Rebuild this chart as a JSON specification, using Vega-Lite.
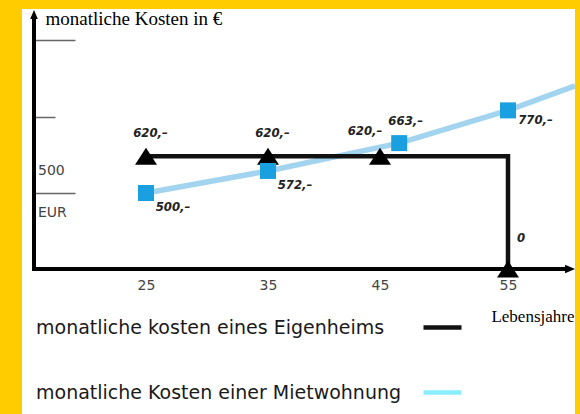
{
  "$schema": "https://vega.github.io/schema/vega-lite/v6.json",
  "width": 553,
  "height": 405,
  "autosize": {"type": "none"},
  "padding": {"left": 22, "top": 9, "right": 5, "bottom": 0},
  "background": "#FFCC00",
  "config": {"view": {"fill": "white", "stroke": null}},
  "datasets": {
    "eigen": [
      {"age": 25, "cost": 620, "i": 1, "marker": true, "label": "620,–"},
      {"age": 35, "cost": 620, "i": 2, "marker": true, "label": "620,–"},
      {"age": 45, "cost": 620, "i": 3, "marker": true, "label": "620,–"},
      {"age": 55, "cost": 620, "i": 4, "marker": false, "label": ""},
      {"age": 55, "cost": 0, "i": 5, "marker": true, "label": "0"}
    ],
    "miete": [
      {"age": 25, "cost": 500, "marker": true, "label": "500,–"},
      {"age": 35, "cost": 572, "marker": true, "label": "572,–"},
      {"age": 46.5, "cost": 663, "marker": true, "label": "663,–"},
      {"age": 55, "cost": 770, "marker": true, "label": "770,–"},
      {"age": 60, "cost": 850, "marker": false, "label": ""}
    ],
    "axes": [
      {"age": 15, "age2": 59.5, "cost": 0, "cost2": 1075, "arrowAge": 59.63, "arrowCost": 1083, "unit": "EUR", "tick": 500, "tickLabel": "500"}
    ]
  },
  "layer": [
    {
      "data": {"name": "miete"},
      "mark": {"type": "line", "color": "#a3d4ef", "strokeWidth": 5.5},
      "encoding": {
        "x": {
          "field": "age", "type": "quantitative",
          "scale": {"domain": [15, 25, 35, 45, 55, 60], "range": [12, 124, 246, 358, 486, 553], "zero": false, "nice": false},
          "axis": {
            "orient": "bottom", "offset": -145, "domain": false, "ticks": false, "grid": false,
            "values": [25, 35, 45, 55], "labelFont": "DejaVu Sans", "labelFontSize": 14, "labelColor": "#444", "labelPadding": 9,
            "title": "Lebensjahre", "titleFont": "Liberation Serif", "titleFontSize": 17, "titleFontWeight": "normal",
            "titleColor": "#000", "titleX": 552, "titleY": 47, "titleAlign": "right", "titleBaseline": "middle"
          }
        },
        "y": {
          "field": "cost", "type": "quantitative",
          "scale": {"domain": [0, 500, 1000], "range": [260, 184, 31], "zero": false, "nice": false},
          "axis": {
            "orient": "left", "offset": -12, "domain": false, "grid": false, "labels": false,
            "values": [500, 750, 1000],
            "tickSize": {"condition": {"test": "datum.value === 750", "value": -21}, "value": -41},
            "tickColor": "#666", "tickWidth": 1.5,
            "title": "monatliche Kosten in €", "titleFont": "Liberation Serif", "titleFontSize": 19, "titleFontWeight": "normal",
            "titleColor": "#000", "titleAngle": 0, "titleAlign": "left", "titleBaseline": "middle", "titleX": 11, "titleY": 9
          }
        }
      }
    },
    {
      "data": {"name": "eigen"},
      "mark": {"type": "line", "strokeWidth": 4.5, "strokeJoin": "miter", "strokeCap": "butt"},
      "encoding": {
        "x": {"field": "age", "type": "quantitative"},
        "y": {"field": "cost", "type": "quantitative"},
        "order": {"field": "i", "type": "quantitative"},
        "color": {
          "datum": "monatliche kosten eines Eigenheims", "type": "nominal",
          "scale": {"domain": ["monatliche kosten eines Eigenheims", "monatliche Kosten einer Mietwohnung"], "range": ["#111111", "#8aeeff"]},
          "legend": {
            "title": null, "orient": "none", "legendX": 399, "legendY": 297, "padding": 0,
            "symbolType": "stroke", "symbolSize": 1444, "symbolStrokeWidth": 4.5,
            "labelFont": "DejaVu Sans", "labelFontSize": 19, "labelColor": "#1a1a1a",
            "labelAlign": "left", "labelOffset": -428, "labelLimit": 600, "rowPadding": 33
          }
        }
      }
    },
    {
      "data": {"name": "axes"},
      "mark": {"type": "rule", "color": "#000", "strokeWidth": 4, "strokeCap": "square"},
      "encoding": {"x": {"field": "age", "type": "quantitative"}, "y": {"field": "cost", "type": "quantitative"}, "y2": {"field": "cost2"}}
    },
    {
      "data": {"name": "axes"},
      "mark": {"type": "rule", "color": "#000", "strokeWidth": 4, "strokeCap": "square"},
      "encoding": {"x": {"field": "age", "type": "quantitative"}, "x2": {"field": "age2"}, "y": {"field": "cost", "type": "quantitative"}}
    },
    {
      "data": {"name": "axes"},
      "mark": {"type": "point", "shape": "M0,-1L0.85,1L-0.85,1Z", "size": 81, "filled": true, "color": "#000", "opacity": 1},
      "encoding": {"x": {"field": "age", "type": "quantitative"}, "y": {"field": "arrowCost", "type": "quantitative"}}
    },
    {
      "data": {"name": "axes"},
      "mark": {"type": "point", "shape": "M1,0L-1,-0.85L-1,0.85Z", "size": 100, "filled": true, "color": "#000", "opacity": 1},
      "encoding": {"x": {"field": "arrowAge", "type": "quantitative"}, "y": {"field": "cost", "type": "quantitative"}}
    },
    {
      "data": {"name": "eigen"},
      "transform": [{"filter": "datum.marker"}],
      "mark": {"type": "point", "shape": "M0,-0.77L1,0.77L-1,0.77Z", "size": 484, "filled": true, "color": "#000", "opacity": 1},
      "encoding": {"x": {"field": "age", "type": "quantitative"}, "y": {"field": "cost", "type": "quantitative"}}
    },
    {
      "data": {"name": "miete"},
      "transform": [{"filter": "datum.marker"}],
      "mark": {"type": "point", "shape": "square", "size": 256, "filled": true, "color": "#1a9fe0", "opacity": 1},
      "encoding": {"x": {"field": "age", "type": "quantitative"}, "y": {"field": "cost", "type": "quantitative"}}
    },
    {
      "data": {"name": "eigen"},
      "transform": [{"filter": "datum.marker && datum.age < 45"}],
      "mark": {"type": "text", "dx": 4.5, "dy": -23, "font": "DejaVu Sans Condensed", "fontSize": 13, "fontWeight": "bold", "fontStyle": "italic", "color": "#222", "baseline": "middle"},
      "encoding": {"x": {"field": "age", "type": "quantitative"}, "y": {"field": "cost", "type": "quantitative"}, "text": {"field": "label"}}
    },
    {
      "data": {"name": "eigen"},
      "transform": [{"filter": "datum.marker && datum.age == 45"}],
      "mark": {"type": "text", "dx": -15, "dy": -25, "font": "DejaVu Sans Condensed", "fontSize": 13, "fontWeight": "bold", "fontStyle": "italic", "color": "#222", "baseline": "middle"},
      "encoding": {"x": {"field": "age", "type": "quantitative"}, "y": {"field": "cost", "type": "quantitative"}, "text": {"field": "label"}}
    },
    {
      "data": {"name": "eigen"},
      "transform": [{"filter": "datum.marker && datum.cost == 0"}],
      "mark": {"type": "text", "dx": 13, "dy": -31, "font": "DejaVu Sans Condensed", "fontSize": 13, "fontWeight": "bold", "fontStyle": "italic", "color": "#222", "baseline": "middle"},
      "encoding": {"x": {"field": "age", "type": "quantitative"}, "y": {"field": "cost", "type": "quantitative"}, "text": {"field": "label"}}
    },
    {
      "data": {"name": "miete"},
      "transform": [{"filter": "datum.marker && datum.age < 40"}],
      "mark": {"type": "text", "dx": 27, "dy": 14, "font": "DejaVu Sans Condensed", "fontSize": 13, "fontWeight": "bold", "fontStyle": "italic", "color": "#222", "baseline": "middle"},
      "encoding": {"x": {"field": "age", "type": "quantitative"}, "y": {"field": "cost", "type": "quantitative"}, "text": {"field": "label"}}
    },
    {
      "data": {"name": "miete"},
      "transform": [{"filter": "datum.marker && datum.age > 40 && datum.age < 50"}],
      "mark": {"type": "text", "dx": 6.5, "dy": -22, "font": "DejaVu Sans Condensed", "fontSize": 13, "fontWeight": "bold", "fontStyle": "italic", "color": "#222", "baseline": "middle"},
      "encoding": {"x": {"field": "age", "type": "quantitative"}, "y": {"field": "cost", "type": "quantitative"}, "text": {"field": "label"}}
    },
    {
      "data": {"name": "miete"},
      "transform": [{"filter": "datum.marker && datum.age == 55"}],
      "mark": {"type": "text", "dx": 27.5, "dy": 10, "font": "DejaVu Sans Condensed", "fontSize": 13, "fontWeight": "bold", "fontStyle": "italic", "color": "#222", "baseline": "middle"},
      "encoding": {"x": {"field": "age", "type": "quantitative"}, "y": {"field": "cost", "type": "quantitative"}, "text": {"field": "label"}}
    },
    {
      "data": {"name": "axes"},
      "mark": {"type": "text", "align": "left", "baseline": "middle", "dx": 4, "dy": -22, "font": "DejaVu Sans", "fontSize": 14, "color": "#444"},
      "encoding": {"x": {"field": "age", "type": "quantitative"}, "y": {"field": "tick", "type": "quantitative"}, "text": {"field": "tickLabel"}}
    },
    {
      "data": {"name": "axes"},
      "mark": {"type": "text", "align": "left", "baseline": "middle", "dx": 4, "dy": 19.5, "font": "DejaVu Sans", "fontSize": 14, "color": "#444"},
      "encoding": {"x": {"field": "age", "type": "quantitative"}, "y": {"field": "tick", "type": "quantitative"}, "text": {"field": "unit"}}
    }
  ]
}
